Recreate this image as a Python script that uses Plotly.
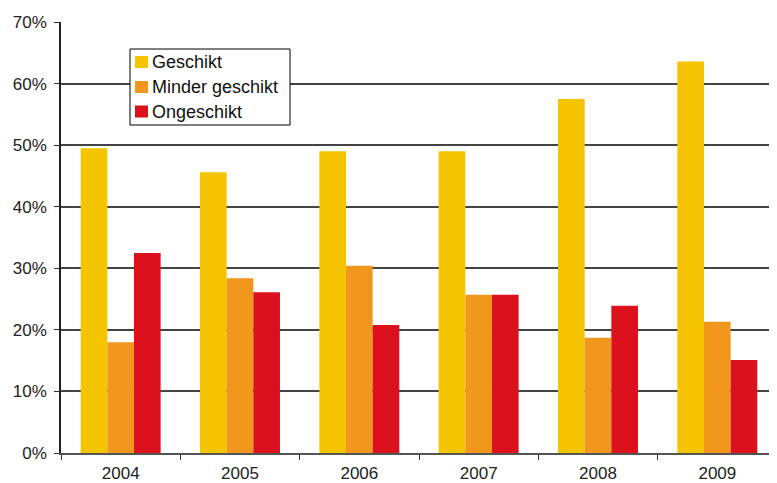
import plotly.graph_objects as go

years = ["2004", "2005", "2006", "2007", "2008", "2009"]
geschikt = [49.5, 45.6, 49.0, 49.0, 57.5, 63.6]
minder_geschikt = [18.0, 28.4, 30.4, 25.7, 18.7, 21.3]
ongeschikt = [32.5, 26.1, 20.8, 25.7, 23.9, 15.1]
y_ticks = [0, 10, 20, 30, 40, 50, 60, 70]
y_tick_labels = [f"{v}%" for v in y_ticks]

series_names = ["Geschikt", "Minder geschikt", "Ongeschikt"]
series_values = [geschikt, minder_geschikt, ongeschikt]
series_colors = ["#F5C400", "#F2971E", "#DC111E"]

# page offset (browser body margin)
OFF = 8
L, R, T, B = 61, 777, 22, 453  # plot area in page pixels


def px(x):
    return (x - L) / (R - L)


def py(y):
    return (B - y) / (B - T)


fig = go.Figure()
for name, vals, col in zip(series_names, series_values, series_colors):
    fig.add_trace(go.Bar(x=years, y=vals, name=name,
                         marker=dict(color=col, line=dict(width=0))))

shapes = []
annotations = []
# legend box
shapes.append(dict(type="rect", xref="paper", yref="paper",
                   x0=px(130), x1=px(290), y0=py(125), y1=py(49),
                   line=dict(color="black", width=1), fillcolor="white", layer="above"))
row_y = [62, 87, 111.5]
for name, col, ry in zip(series_names, series_colors, row_y):
    shapes.append(dict(type="rect", xref="paper", yref="paper",
                       x0=px(135), x1=px(148), y0=py(ry + 6), y1=py(ry - 6),
                       line=dict(width=0), fillcolor=col, layer="above"))
    annotations.append(dict(xref="paper", yref="paper", x=px(150), y=py(ry),
                            text=name, showarrow=False, xanchor="left", yanchor="middle",
                            font=dict(size=18, color="#111")))

fig.update_layout(
    width=777 - OFF, height=483 - OFF,
    margin=dict(l=L - OFF, r=0, t=T - OFF, b=483 - B),
    paper_bgcolor="white", plot_bgcolor="white",
    barmode="group", bargap=0.33, bargroupgap=0,
    font=dict(family="Liberation Sans, Arial, sans-serif", size=17, color="#222"),
    showlegend=False,
    shapes=shapes,
    annotations=annotations,
    xaxis=dict(
        type="category", range=[-0.5, 5.5],
        showline=True, linecolor="#555", linewidth=2,
        ticks="outside", tickson="boundaries", ticklen=5, tickcolor="#333",
        ticklabelstandoff=4,
        showgrid=False, automargin=False,
    ),
    yaxis=dict(
        range=[0, 70], tickvals=y_ticks, ticktext=y_tick_labels,
        showline=True, linecolor="#222", linewidth=1.5,
        ticks="outside", ticklen=5, tickcolor="#333",
        ticklabelstandoff=4,
        showgrid=True, gridcolor="#444", gridwidth=1.5,
        zeroline=False, automargin=False,
    ),
)

fig.write_html("out.html")
